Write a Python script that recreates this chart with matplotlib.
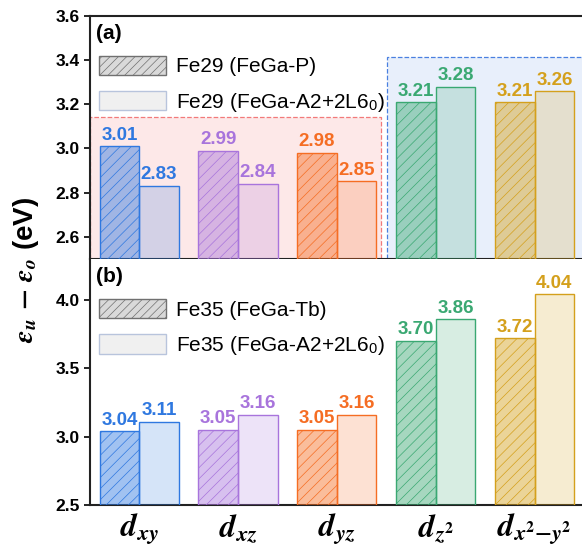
import numpy as np
import matplotlib
matplotlib.use("Agg")
import matplotlib.pyplot as plt
from matplotlib.patches import Patch, Rectangle

plt.rcParams['font.family'] = ['Liberation Sans', 'DejaVu Sans']
plt.rcParams['mathtext.fontset'] = 'stix'
plt.rcParams['hatch.linewidth'] = 0.5

orbitals = [r'$\mathbfit{d}_{\mathbfit{xy}}$', r'$\mathbfit{d}_{\mathbfit{xz}}$',
            r'$\mathbfit{d}_{\mathbfit{yz}}$', r'$\mathbfit{d}_{\mathbfit{z}^{\mathbf{2}}}$',
            r'$\mathbfit{d}_{\mathbfit{x}^{\mathbf{2}}\mathbf{-}\mathbfit{y}^{\mathbf{2}}}$']
colors = ['#2f78e0', '#a874dc', '#f56d23', '#3aa872', '#d4a01c']

fe29_p = [3.01, 2.99, 2.98, 3.21, 3.21]
fe29_a2 = [2.83, 2.84, 2.85, 3.28, 3.26]
fe35_tb = [3.04, 3.05, 3.05, 3.70, 3.72]
fe35_a2 = [3.11, 3.16, 3.16, 3.86, 4.04]

labels_a = ['Fe29 (FeGa-P)', r'Fe29 (FeGa-A2+2L6$_\mathregular{0}$)']
labels_b = ['Fe35 (FeGa-Tb)', r'Fe35 (FeGa-A2+2L6$_\mathregular{0}$)']

fig = plt.figure(figsize=(5.82, 5.46), dpi=100)
ax1 = fig.add_axes([0.155, 0.526, 0.845, 0.445])
ax2 = fig.add_axes([0.155, 0.075, 0.845, 0.451])

x = np.arange(len(orbitals))
w = 0.4


def draw(ax, v1, v2, ylim, yticks, tag, labels):
    for i in range(len(x)):
        c = colors[i]
        ax.bar(x[i] - w / 2, v1[i] - ylim[0], w, bottom=ylim[0], facecolor=matplotlib.colors.to_rgba(c, 0.45),
               edgecolor=c, hatch='///', linewidth=1.0, zorder=3)
        ax.bar(x[i] + w / 2, v2[i] - ylim[0], w, bottom=ylim[0], facecolor=matplotlib.colors.to_rgba(c, 0.2),
               edgecolor=c, linewidth=1.0, zorder=3)
        ax.text(x[i] - w / 2, v1[i] + 0.01 * (ylim[1] - ylim[0]), f'{v1[i]:.2f}', color=c,
                ha='center', va='bottom', fontsize=13.5, fontweight='bold', zorder=4)
        ax.text(x[i] + w / 2, v2[i] + 0.01 * (ylim[1] - ylim[0]), f'{v2[i]:.2f}', color=c,
                ha='center', va='bottom', fontsize=13.5, fontweight='bold', zorder=4)
    ax.set_xlim(-0.495, 4.48)
    ax.set_ylim(*ylim)
    ax.set_yticks(yticks)
    ax.set_yticklabels([f'{t:.1f}' for t in yticks], fontweight='bold', fontsize=12.5)
    ax.tick_params(axis='y', direction='out', length=4, width=1.2)
    ax.spines['right'].set_visible(False)
    for s in ['left', 'top', 'bottom']:
        ax.spines[s].set_linewidth(1.5)
        ax.spines[s].set_color('#222222')
    ax.text(0.012, 0.965, tag, transform=ax.transAxes, fontsize=15, fontweight='bold', va='top', ha='left')
    handles = [Patch(facecolor='#d9d9d9', edgecolor='#707070', hatch='////', linewidth=1.0),
               Patch(facecolor='#f0f0f0', edgecolor='#b8c4dc', linewidth=1.0)]
    ax.legend(handles, labels, loc='upper left', bbox_to_anchor=(-0.015, 0.905), frameon=False,
              fontsize=15, handlelength=3.2, handleheight=1.05, handletextpad=0.45, labelspacing=0.7,
              borderaxespad=0.4)


draw(ax1, fe29_p, fe29_a2, (2.5, 3.6), [2.6, 2.8, 3.0, 3.2, 3.4, 3.6], '(a)', labels_a)
draw(ax2, fe35_tb, fe35_a2, (2.5, 4.3), [2.5, 3.0, 3.5, 4.0], '(b)', labels_b)

ax1.add_patch(Rectangle((-0.495, 2.5), 2.945, 0.64, facecolor='#fde8e8', edgecolor='#f27a7a',
                        linestyle='--', linewidth=0.9, zorder=1))
ax1.add_patch(Rectangle((2.51, 2.5), 2.0, 0.915, facecolor='#e8effb', edgecolor='#4a80e0',
                        linestyle='--', linewidth=0.9, zorder=1))

ax1.set_xticks([])
ax2.spines['top'].set_visible(False)
ax2.set_xticks(x)
ax2.set_xticklabels(orbitals, fontsize=23)
ax2.tick_params(axis='x', length=0, pad=5)

fig.text(0.045, 0.505, r'$\mathbfit{\epsilon_u}$ $\mathbf{-}$ $\mathbfit{\epsilon_o}$ (eV)', rotation=90,
         fontsize=20, fontweight='bold', ha='center', va='center')

fig.savefig('out.png', dpi=100)
